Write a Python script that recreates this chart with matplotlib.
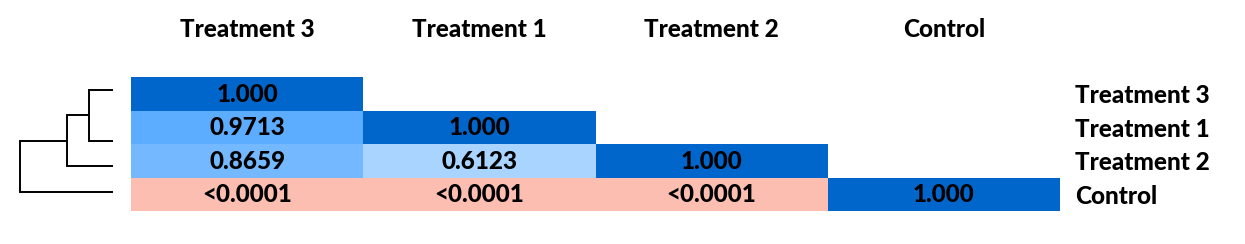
import matplotlib
matplotlib.use("Agg")
import matplotlib.pyplot as plt

plt.rcParams["font.family"] = ["Lato", "DejaVu Sans"]

# order of groups after clustering
groups = ["Treatment 3", "Treatment 1", "Treatment 2", "Control"]

# lower-triangle p-values, row by row (row i has i+1 cells)
cell_text = [
    ["1.000"],
    ["0.9713", "1.000"],
    ["0.8659", "0.6123", "1.000"],
    ["<0.0001", "<0.0001", "<0.0001", "1.000"],
]

# dendrogram: leaf positions (in leaf units) and merge heights
leaf_pos = [0, 2, 3, 4]
merge_height = [24, 46, 93]


def cell_color(txt):
    if txt.startswith("<"):
        return "#FBBEB1"
    v = float(txt)
    if v >= 0.999:
        return "#0066CC"
    if v >= 0.95:
        return "#5CADFF"
    if v >= 0.8:
        return "#74B9FF"
    return "#A8D4FF"


W, H = 1245, 244
fig = plt.figure(figsize=(W / 100, H / 100), dpi=100)

# heatmap
ax = fig.add_axes([131 / W, (H - 211) / H, 929 / W, 134 / H])
for r, row in enumerate(cell_text):
    for c, txt in enumerate(row):
        ax.bar(c, 1, width=1, bottom=r, align="edge", color=cell_color(txt),
               edgecolor="none")
        ax.text(c + 0.5, r + 0.52, txt, ha="center", va="center",
                fontsize=17.5, fontweight="black", color="black")
ax.set_xlim(0, 4)
ax.set_ylim(4, 0)
ax.set_xticks([i + 0.5 for i in range(4)])
ax.set_xticklabels(groups, fontsize=17.5, fontweight="black")
ax.xaxis.tick_top()
ax.tick_params(axis="x", length=0, pad=26)
ax.set_yticks([i + 0.5 for i in range(4)])
ax.set_yticklabels(groups, fontsize=17.5, fontweight="black", ha="left")
ax.yaxis.tick_right()
ax.tick_params(axis="y", length=0, pad=11)
for s in ax.spines.values():
    s.set_visible(False)

# dendrogram
dax = fig.add_axes([0, (H - 211) / H, 131 / W, 134 / H])
node_y = leaf_pos[0]
node_h = 0
for k, h in enumerate(merge_height):
    if k == 0:
        y1, h1 = leaf_pos[0], 0
        y2 = leaf_pos[1]
        nxt = 2
    else:
        y1, h1 = node_y, node_h
        y2 = leaf_pos[nxt]
        nxt += 1
    dax.plot([h1, h, h, 0], [y1, y1, y2, y2], color="black", lw=1.4,
             solid_joinstyle="miter", solid_capstyle="butt")
    node_y = (y1 + y2) / 2
    node_h = h
dax.set_xlim(113, -18)
dax.set_ylim(4 + 19.3 / 25.4, -13 / 25.4)
dax.axis("off")

fig.savefig("out.png", dpi=100)
